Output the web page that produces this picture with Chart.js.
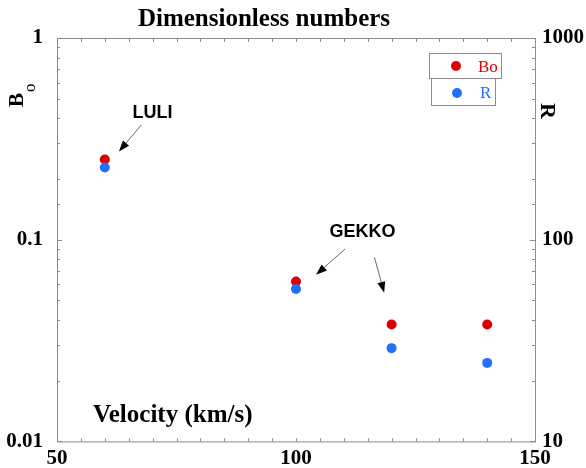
<!DOCTYPE html>
<html>
<head>
<meta charset="utf-8">
<script src="https://cdn.jsdelivr.net/npm/chart.js@4/dist/chart.umd.min.js"></script>
<style>
  body { margin: 0; background: #fff; }
  canvas { display: block; }
</style>
</head>
<body>
<canvas id="grafik" width="586" height="468"></canvas>
<script>
// data
const velocity = [60, 100, 120, 140];
const boValues = [0.25, 0.062, 0.038, 0.038];
const rValues = [228, 57, 29, 24.5];
const xTickLabels = [50, 100, 150];
const boTickLabels = [0.01, 0.1, 1];
const rTickLabels = [10, 100, 1000];

// annotations, in data units (x = velocity, y = Bo)
const notes = [
    { text: 'LULI', x: 70.0, y: 0.40 },
    { text: 'GEKKO', x: 113.9, y: 0.1034 }
];
const arrows = [
    { from: [67.65, 0.371], to: [62.96, 0.2735] },
    { from: [110.27, 0.0899], to: [104.19, 0.0671] },
    { from: [116.42, 0.0817], to: [118.45, 0.0545] }
];

const SERIF = '"Liberation Serif", "Times New Roman", serif';
const SANS = '"Liberation Sans", Arial, sans-serif';
const RED = 'rgb(222, 0, 0)';
const BLUE = 'rgb(34, 112, 250)';
const FRAME = '#8c8c8c';

function isDecade(v) {
    const l = Math.log10(v);
    return Math.abs(l - Math.round(l)) < 1e-6;
}

function labelFrom(list) {
    return function (v) {
        for (const t of list) {
            if (Math.abs(v - t) / t < 1e-6) return String(t);
        }
        return '';
    };
}

// frame with inward tick marks
const frameTicks = {
    id: 'frameTicks',
    beforeDatasetsDraw(chart) {
        const { ctx, chartArea: a, scales } = chart;
        ctx.save();
        ctx.strokeStyle = FRAME;
        ctx.lineWidth = 1;
        ctx.strokeRect(a.left + 0.5, a.top + 0.5, a.right - a.left, a.bottom - a.top);
        ctx.beginPath();
        scales.x.ticks.forEach(t => {
            const px = Math.round(scales.x.getPixelForValue(t.value)) + 0.5;
            ctx.moveTo(px, a.bottom); ctx.lineTo(px, a.bottom - 3);
            ctx.moveTo(px, a.top); ctx.lineTo(px, a.top + 4);
        });
        scales.y.ticks.forEach(t => {
            const py = Math.round(scales.y.getPixelForValue(t.value)) + 0.5;
            const len = isDecade(t.value) ? 5 : 3;
            ctx.moveTo(a.left, py); ctx.lineTo(a.left + len, py);
        });
        scales.y2.ticks.forEach(t => {
            const py = Math.round(scales.y2.getPixelForValue(t.value)) + 0.5;
            const len = isDecade(t.value) ? 5 : 3;
            ctx.moveTo(a.right, py); ctx.lineTo(a.right - len, py);
        });
        ctx.stroke();
        ctx.restore();
    }
};

function drawArrow(ctx, x1, y1, x2, y2) {
    const ang = Math.atan2(y2 - y1, x2 - x1);
    const hl = 11, hw = 4;
    const bx = x2 - hl * Math.cos(ang), by = y2 - hl * Math.sin(ang);
    ctx.strokeStyle = '#666';
    ctx.lineWidth = 1;
    ctx.beginPath();
    ctx.moveTo(x1, y1);
    ctx.lineTo(bx, by);
    ctx.stroke();
    ctx.fillStyle = '#000';
    ctx.beginPath();
    ctx.moveTo(x2, y2);
    ctx.lineTo(bx + hw * Math.sin(ang), by - hw * Math.cos(ang));
    ctx.lineTo(bx - hw * Math.sin(ang), by + hw * Math.cos(ang));
    ctx.closePath();
    ctx.fill();
}

// titles, annotations and the boxed legend
const extras = {
    id: 'extras',
    afterDraw(chart) {
        const { ctx, scales } = chart;
        const sx = scales.x, sy = scales.y;
        ctx.save();

        ctx.fillStyle = '#000';
        ctx.textBaseline = 'alphabetic';
        ctx.textAlign = 'center';
        ctx.font = 'bold 25px ' + SERIF;
        ctx.fillText('Dimensionless numbers', 264, 26);

        ctx.textAlign = 'left';
        ctx.fillText('Velocity (km/s)', 93, 422);

        // left axis title B_o
        ctx.save();
        ctx.translate(23, 107);
        ctx.rotate(-Math.PI / 2);
        ctx.font = 'bold 21px ' + SERIF;
        ctx.fillText('B', 0, 0);
        ctx.font = '17px ' + SERIF;
        ctx.fillText('o', 15, 12);
        ctx.restore();

        // right axis title R
        ctx.save();
        ctx.translate(541, 103);
        ctx.rotate(Math.PI / 2);
        ctx.font = 'bold 22px ' + SERIF;
        ctx.fillText('R', 0, 0);
        ctx.restore();

        // LULI / GEKKO
        ctx.textAlign = 'center';
        ctx.font = 'bold 18px ' + SANS;
        notes.forEach(n => {
            ctx.fillText(n.text, sx.getPixelForValue(n.x), sy.getPixelForValue(n.y));
        });
        arrows.forEach(a => {
            drawArrow(ctx,
                sx.getPixelForValue(a.from[0]), sy.getPixelForValue(a.from[1]),
                sx.getPixelForValue(a.to[0]), sy.getPixelForValue(a.to[1]));
        });

        // legend boxes
        ctx.strokeStyle = FRAME;
        ctx.lineWidth = 1;
        ctx.strokeRect(429.5, 53.5, 72, 25);
        ctx.strokeRect(431.5, 78.5, 64, 27);
        ctx.fillStyle = RED;
        ctx.beginPath(); ctx.arc(456, 66, 5, 0, Math.PI * 2); ctx.fill();
        ctx.fillStyle = BLUE;
        ctx.beginPath(); ctx.arc(457, 93, 5, 0, Math.PI * 2); ctx.fill();
        ctx.textAlign = 'left';
        ctx.font = '17px ' + SERIF;
        ctx.fillStyle = RED;
        ctx.fillText('Bo', 478, 72);
        ctx.fillStyle = BLUE;
        ctx.fillText('R', 480, 98);

        ctx.restore();
    }
};

const tickFont = { family: SERIF, size: 21, weight: 'bold' };

new Chart(document.getElementById('grafik'), {
    type: 'scatter',
    data: {
        datasets: [{
            label: 'R',
            data: velocity.map((v, i) => ({ x: v, y: rValues[i] })),
            yAxisID: 'y2',
            backgroundColor: BLUE,
            borderWidth: 0,
            pointRadius: 5,
            order: 0
        }, {
            label: 'Bo',
            data: velocity.map((v, i) => ({ x: v, y: boValues[i] })),
            yAxisID: 'y',
            backgroundColor: RED,
            borderWidth: 0,
            pointRadius: 5,
            order: 1
        }]
    },
    options: {
        responsive: false,
        animation: false,
        layout: { padding: { top: 38, left: 0, right: 0, bottom: 0 } },
        plugins: {
            legend: { display: false },
            tooltip: { enabled: false },
            title: { display: false }
        },
        scales: {
            x: {
                type: 'linear',
                min: 50, max: 150,
                grid: { display: false, drawTicks: false },
                border: { display: false },
                ticks: {
                    stepSize: 5, autoSkip: false, maxRotation: 0,
                    padding: 5, color: '#000', font: tickFont,
                    callback: labelFrom(xTickLabels)
                },
                afterFit(s) { s.height = 26; }
            },
            y: {
                type: 'logarithmic',
                position: 'left',
                min: 0.01, max: 1,
                grid: { display: false, drawTicks: false },
                border: { display: false },
                ticks: {
                    autoSkip: false, padding: 14, color: '#000', font: tickFont,
                    callback: labelFrom(boTickLabels)
                },
                afterFit(s) { s.width = 57; }
            },
            y2: {
                type: 'logarithmic',
                position: 'right',
                min: 10, max: 1000,
                grid: { display: false, drawTicks: false },
                border: { display: false },
                ticks: {
                    autoSkip: false, padding: 7, color: '#000', font: tickFont,
                    callback: labelFrom(rTickLabels)
                },
                afterFit(s) { s.width = 51; }
            }
        }
    },
    plugins: [frameTicks, extras]
});
</script>
</body>
</html>
